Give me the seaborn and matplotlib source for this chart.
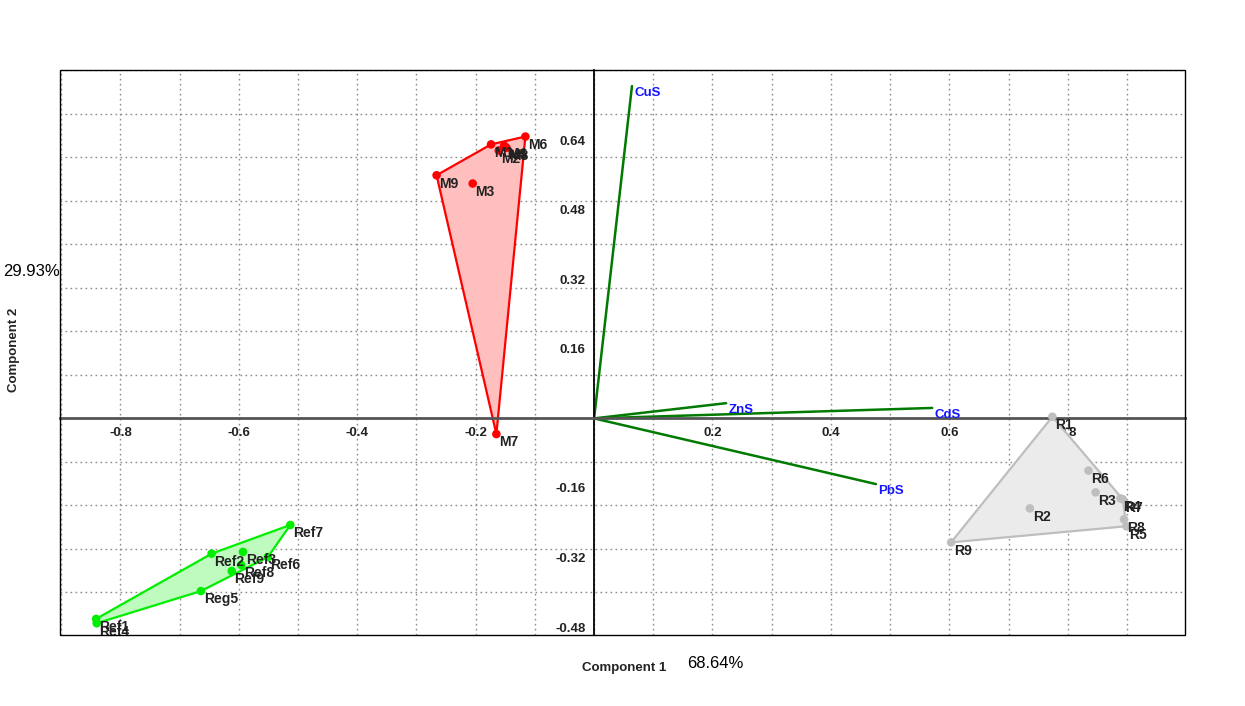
import numpy as np
import pandas as pd
import matplotlib
matplotlib.use("Agg")
import matplotlib.pyplot as plt
from matplotlib.patches import Rectangle
import seaborn as sns

# ---------------- data ----------------
m_names = ["M1", "M2", "M3", "M4", "M5", "M6", "M7", "M8", "M9"]
m_x = [-0.174, -0.161, -0.205, -0.152, -0.150, -0.116, -0.165, -0.148, -0.266]
m_y = [0.630, 0.616, 0.540, 0.627, 0.624, 0.648, -0.036, 0.622, 0.559]

ref_names = ["Ref1", "Ref2", "Ref3", "Ref4", "Reg5", "Ref6", "Ref7", "Ref8", "Ref9"]
ref_x = [-0.841, -0.646, -0.593, -0.840, -0.664, -0.551, -0.513, -0.596, -0.612]
ref_y = [-0.461, -0.311, -0.307, -0.471, -0.397, -0.319, -0.245, -0.337, -0.351]

r_names = ["R1", "R2", "R3", "R4", "R5", "R6", "R7", "R8", "R9"]
r_x = [0.774, 0.736, 0.847, 0.889, 0.899, 0.835, 0.893, 0.895, 0.603]
r_y = [0.004, -0.207, -0.170, -0.184, -0.248, -0.120, -0.186, -0.232, -0.285]

load_names = ["CuS", "ZnS", "CdS", "PbS"]
load_x = [0.064, 0.223, 0.571, 0.476]
load_y = [0.764, 0.035, 0.024, -0.151]

x_ticks = [-0.8, -0.6, -0.4, -0.2, 0.2, 0.4, 0.6, 0.8]
y_ticks = [-0.48, -0.32, -0.16, 0.16, 0.32, 0.48, 0.64]
x_label = "Component 1"
y_label = "Component 2"
x_pct = "68.64%"
y_pct = "29.93%"

groups = [
    ("M", m_names, m_x, m_y, "#FF0000", "#FFBFBF"),
    ("Ref", ref_names, ref_x, ref_y, "#00EE00", "#BFFABF"),
    ("R", r_names, r_x, r_y, "#BEBEBE", "#EBEBEB"),
]

frames = []
for g, n, x, y, _, _ in groups:
    frames.append(pd.DataFrame({"name": n, "x": x, "y": y, "group": g}))
df = pd.concat(frames, ignore_index=True)


def convex_hull(pts):
    pts = sorted(set(pts))
    if len(pts) <= 2:
        return pts

    def cross(o, a, b):
        return (a[0] - o[0]) * (b[1] - o[1]) - (a[1] - o[1]) * (b[0] - o[0])

    lower, upper = [], []
    for p in pts:
        while len(lower) >= 2 and cross(lower[-2], lower[-1], p) <= 0:
            lower.pop()
        lower.append(p)
    for p in reversed(pts):
        while len(upper) >= 2 and cross(upper[-2], upper[-1], p) <= 0:
            upper.pop()
        upper.append(p)
    return lower[:-1] + upper[:-1]


# ---------------- figure ----------------
sns.set_style("white")
plt.rcParams["font.family"] = ["Liberation Sans", "DejaVu Sans"]

fig = plt.figure(figsize=(12.45, 7.06), dpi=100)
ax = fig.add_axes([60 / 1245, 1 - 635 / 706, 1125 / 1245, 565 / 706])
ax.set_xlim(-0.902, 0.998)
ax.set_ylim(-0.498, 0.801)

# dotted grid every 0.1
for gx in np.arange(-0.9, 1.0001, 0.1):
    ax.axvline(gx, color="#8C8C8C", lw=1, ls=(0, (1.2, 2.4)), zorder=0)
for gy in np.arange(-0.5, 0.8001, 0.1):
    ax.axhline(gy, color="#8C8C8C", lw=1, ls=(0, (1.2, 2.4)), zorder=0)

# hulls
for g, n, x, y, col, fill in groups:
    hull = convex_hull(list(zip(x, y)))
    hx = [p[0] for p in hull]
    hy = [p[1] for p in hull]
    ax.fill(hx, hy, facecolor=fill, edgecolor=col, lw=1.6, zorder=2)

# points
palette = {g: col for g, _, _, _, col, _ in groups}
sns.scatterplot(data=df, x="x", y="y", hue="group", palette=palette, s=38,
                edgecolor="none", legend=False, ax=ax, zorder=4)

for _, row in df.iterrows():
    ax.annotate(row["name"], (row["x"], row["y"]), xytext=(2, -6),
                textcoords="offset points", ha="left", va="center",
                fontsize=10, fontweight="bold", color="#222222", zorder=6)

# loadings
for n, lx, ly in zip(load_names, load_x, load_y):
    ax.plot([0, lx], [0, ly], color="#007A00", lw=1.8, zorder=3)
    ax.annotate(n, (lx, ly), xytext=(1.5, -5), textcoords="offset points",
                ha="left", va="center", fontsize=9.5, fontweight="bold",
                color="#1515FF", zorder=6)

# axes through origin
ax.spines["left"].set_position(("data", 0))
ax.spines["bottom"].set_position(("data", 0))
ax.spines["left"].set_color("black")
ax.spines["left"].set_linewidth(1.3)
ax.spines["bottom"].set_color("#555555")
ax.spines["bottom"].set_linewidth(2)
ax.spines["top"].set_visible(False)
ax.spines["right"].set_visible(False)
ax.spines["left"].set_zorder(3)
ax.spines["bottom"].set_zorder(3)

ax.set_xticks(x_ticks)
ax.set_yticks(y_ticks)
ax.set_xticklabels([f"{v:g}" for v in x_ticks])
ax.set_yticklabels([f"{v:.2f}" for v in y_ticks])
ax.tick_params(axis="both", direction="out", length=4, width=1,
               color="#666666", labelsize=9.5, labelcolor="#222222", pad=2)
plt.setp(ax.get_xticklabels(), fontweight="bold")
plt.setp(ax.get_yticklabels(), fontweight="bold")
ax.set_xlabel("")
ax.set_ylabel("")

# frame box
ax.add_patch(Rectangle((0, 0), 1, 1, transform=ax.transAxes, fill=False,
                       ec="black", lw=1, clip_on=False, zorder=10))

# axis titles
fig.text(624 / 1245, 1 - 668 / 706, x_label, ha="center", va="center",
         fontsize=9.5, fontweight="bold", color="#222222")
fig.text(715 / 1245, 1 - 663 / 706, x_pct, ha="center", va="center",
         fontsize=12, color="black")
fig.text(14 / 1245, 1 - 350 / 706, y_label, ha="center", va="center",
         rotation=90, fontsize=9.5, fontweight="bold", color="#222222")
fig.text(31 / 1245, 1 - 272 / 706, y_pct, ha="center", va="center",
         fontsize=12, color="black")

fig.savefig("out.png", dpi=100, facecolor="white")
